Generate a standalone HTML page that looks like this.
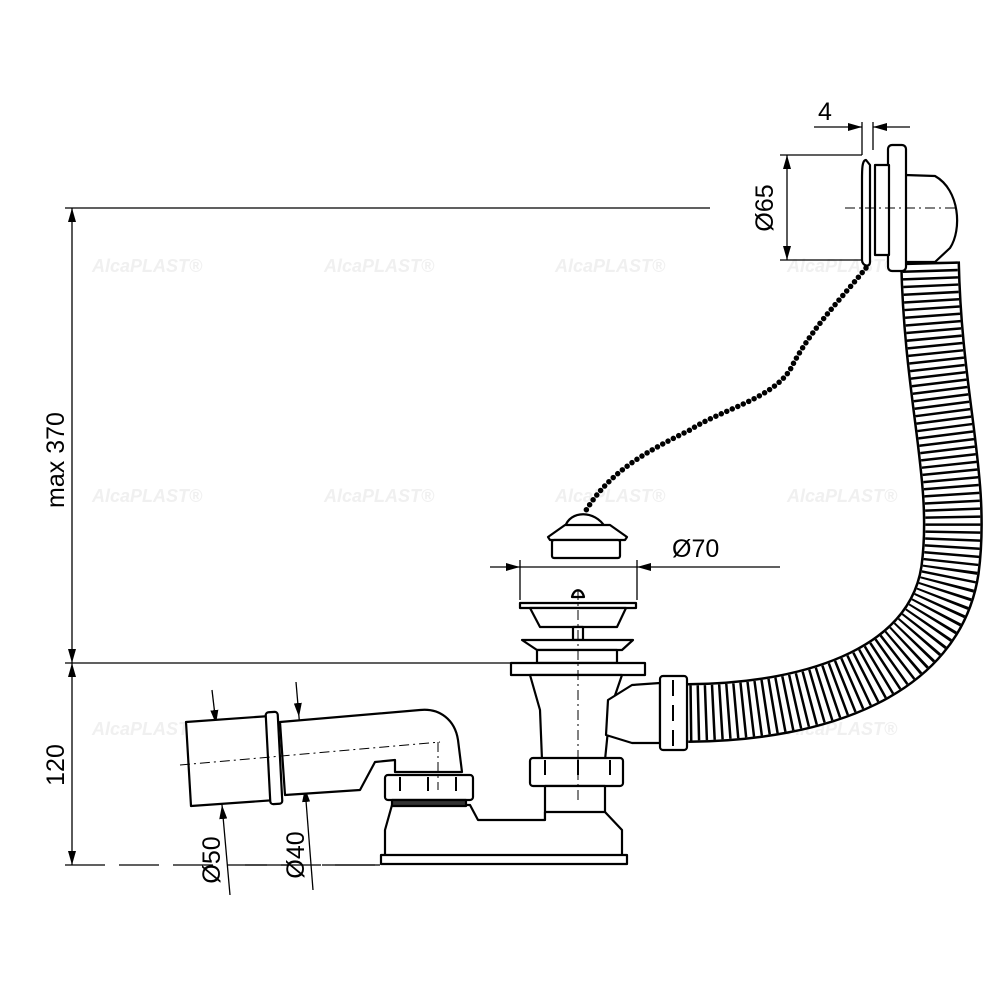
<!DOCTYPE html>
<html><head><meta charset="utf-8"><style>
html,body{margin:0;padding:0;background:#fff}
svg{display:block}
text{font-family:"Liberation Sans",Arial,sans-serif}
.wm{fill:#f0f0f0;font-weight:bold;font-size:18px;font-style:italic}
</style></head><body>
<svg width="1000" height="1000" viewBox="0 0 1000 1000" xmlns="http://www.w3.org/2000/svg">
<defs>
<marker id="a" markerWidth="14" markerHeight="8" refX="14" refY="4" orient="auto" markerUnits="userSpaceOnUse"><path d="M0,0 L14,4 L0,8 Z" fill="#000"/></marker>
</defs>
<g class="wm">
<text x="92" y="272">AlcaPLAST®</text><text x="324" y="272">AlcaPLAST®</text><text x="555" y="272">AlcaPLAST®</text><text x="787" y="272">AlcaPLAST®</text>
<text x="92" y="502">AlcaPLAST®</text><text x="324" y="502">AlcaPLAST®</text><text x="555" y="502">AlcaPLAST®</text><text x="787" y="502">AlcaPLAST®</text>
<text x="92" y="735">AlcaPLAST®</text><text x="324" y="735">AlcaPLAST®</text><text x="555" y="735">AlcaPLAST®</text><text x="787" y="735">AlcaPLAST®</text>
</g>
<g stroke="#000" fill="none" stroke-width="1.3">
<line x1="65" y1="208" x2="710" y2="208"/>
<line x1="65" y1="663" x2="512" y2="663"/>
<line x1="65" y1="865" x2="380" y2="865" stroke-dasharray="40 14"/>
<line x1="72" y1="435" x2="72" y2="208" marker-end="url(#a)"/>
<line x1="72" y1="435" x2="72" y2="663" marker-end="url(#a)"/>
<line x1="72" y1="765" x2="72" y2="663" marker-end="url(#a)"/>
<line x1="72" y1="765" x2="72" y2="865" marker-end="url(#a)"/>
<line x1="490" y1="567" x2="520" y2="567" marker-end="url(#a)"/>
<line x1="780" y1="567" x2="637" y2="567" marker-end="url(#a)"/>
<line x1="520" y1="567" x2="637" y2="567"/>
<line x1="520" y1="560" x2="520" y2="600"/>
<line x1="637" y1="560" x2="637" y2="600"/>
<line x1="780" y1="155" x2="862" y2="155"/>
<line x1="780" y1="260" x2="862" y2="260"/>
<line x1="787" y1="208" x2="787" y2="155" marker-end="url(#a)"/>
<line x1="787" y1="208" x2="787" y2="260" marker-end="url(#a)"/>
<line x1="814" y1="127" x2="862" y2="127" marker-end="url(#a)"/>
<line x1="910" y1="127" x2="873" y2="127" marker-end="url(#a)"/>
<line x1="862" y1="122" x2="862" y2="155"/>
<line x1="873" y1="122" x2="873" y2="150"/>
<line x1="212" y1="690" x2="216" y2="724" marker-end="url(#a)"/>
<line x1="230" y1="895" x2="222" y2="805" marker-end="url(#a)"/>
<line x1="216" y1="724" x2="222" y2="805"/>
<line x1="296" y1="682" x2="299" y2="717" marker-end="url(#a)"/>
<line x1="313" y1="890" x2="305" y2="788" marker-end="url(#a)"/>
<line x1="299" y1="717" x2="305" y2="788"/>
<line x1="245" y1="865" x2="290" y2="865"/>
<line x1="322" y1="865" x2="380" y2="865"/>
</g>
<g font-size="25" fill="#000">
<text transform="translate(64,460) rotate(-90)" text-anchor="middle">max 370</text>
<text transform="translate(64,765) rotate(-90)" text-anchor="middle">120</text>
<text transform="translate(773,208) rotate(-90)" text-anchor="middle">Ø65</text>
<text transform="translate(220,860) rotate(-90)" text-anchor="middle">Ø50</text>
<text transform="translate(304,855) rotate(-90)" text-anchor="middle">Ø40</text>
<text x="672" y="557">Ø70</text>
<text x="818" y="120">4</text>
</g>
<path d="M930 262 C933 400 962 480 950 570 C935 670 820 712 688 713" fill="none" stroke="#000" stroke-width="60"/>
<path d="M930 262 C933 400 962 480 950 570 C935 670 820 712 688 713" fill="none" stroke="#fff" stroke-width="55"/>
<path d="M930 262 C933 400 962 480 950 570 C935 670 820 712 688 713" fill="none" stroke="#000" stroke-width="55" stroke-dasharray="2.5 5"/>
<path d="M866 268 C840 300 810 330 790 370 C770 400 720 410 690 430 C650 450 610 470 585 512" fill="none" stroke="#000" stroke-width="5.5" stroke-linecap="round" stroke-dasharray="0 6"/>
<g stroke="#000" stroke-width="2.2" fill="#fff" stroke-linejoin="round">
<path d="M905 175 L935 176 C960 190 962 230 950 248 L935 262 L905 262 Z"/>
<rect x="888" y="145" width="18" height="126" rx="4"/>
<rect x="875" y="165" width="14" height="90"/>
<path d="M866 160 C862 160 862 170 862 180 L862 260 C862 266 870 268 870 262 L870 165 Z"/>
<line x1="845" y1="208" x2="955" y2="208" stroke-width="1" stroke-dasharray="10 4 2 4"/>
<path d="M565 527 C570 510 595 510 605 527 Z"/>
<path d="M548 537 L565 525 L610 525 L627 537 L625 540 L550 540 Z"/>
<rect x="552" y="540" width="68" height="18" rx="2"/>
<path d="M572 597 C574 588 582 588 584 597 Z"/>
<rect x="520" y="603" width="116" height="5"/>
<path d="M530 608 L626 608 L617 627 L540 627 Z"/>
<rect x="573" y="627" width="10" height="13"/>
<path d="M522 640 L633 640 L622 650 L537 650 Z"/>
<rect x="537" y="650" width="80" height="13"/>
<rect x="511" y="663" width="134" height="12"/>
<path d="M530 675 L622 675 L610 710 L605 760 L542 760 L540 710 Z"/>
<path d="M608 700 L632 685 L660 683 L660 743 L632 743 L606 735 Z"/>
<rect x="660" y="676" width="27" height="74" rx="3"/>
<rect x="530" y="758" width="93" height="28" rx="3"/>
<rect x="545" y="786" width="60" height="34"/>
<path d="M392 805 L470 805 L478 820 L545 820 L545 812 L605 812 L622 830 L622 857 L385 857 L385 830 Z"/>
<rect x="381" y="855" width="246" height="9"/>
<rect x="385" y="775" width="88" height="25" rx="3"/>
<rect x="392" y="800" width="74" height="6" fill="#333"/>
<path d="M280 722 L420 710 C440 708 455 720 458 740 L462 772 L395 772 L395 760 L375 762 L360 790 L285 795 Z"/>
<path d="M186 722 L270 716 L276 800 L191 806 Z"/>
<rect x="268" y="712" width="12" height="92" rx="3" transform="rotate(-3 274 758)"/>
</g>
<g stroke="#000" stroke-width="1" fill="none" stroke-dasharray="10 4 2 4">
<line x1="578" y1="590" x2="578" y2="800"/>
<line x1="180" y1="765" x2="440" y2="742"/>
<line x1="438" y1="742" x2="438" y2="790"/>
</g>
<g stroke="#000" stroke-width="2" fill="none">
<path d="M545 760 v15 M578 760 v15 M610 760 v15"/>
<path d="M400 777 v14 M428 777 v14 M456 777 v14"/>
<path d="M673 680 v16 M673 705 v16 M673 730 v16"/>
</g>
</svg>
</body></html>
